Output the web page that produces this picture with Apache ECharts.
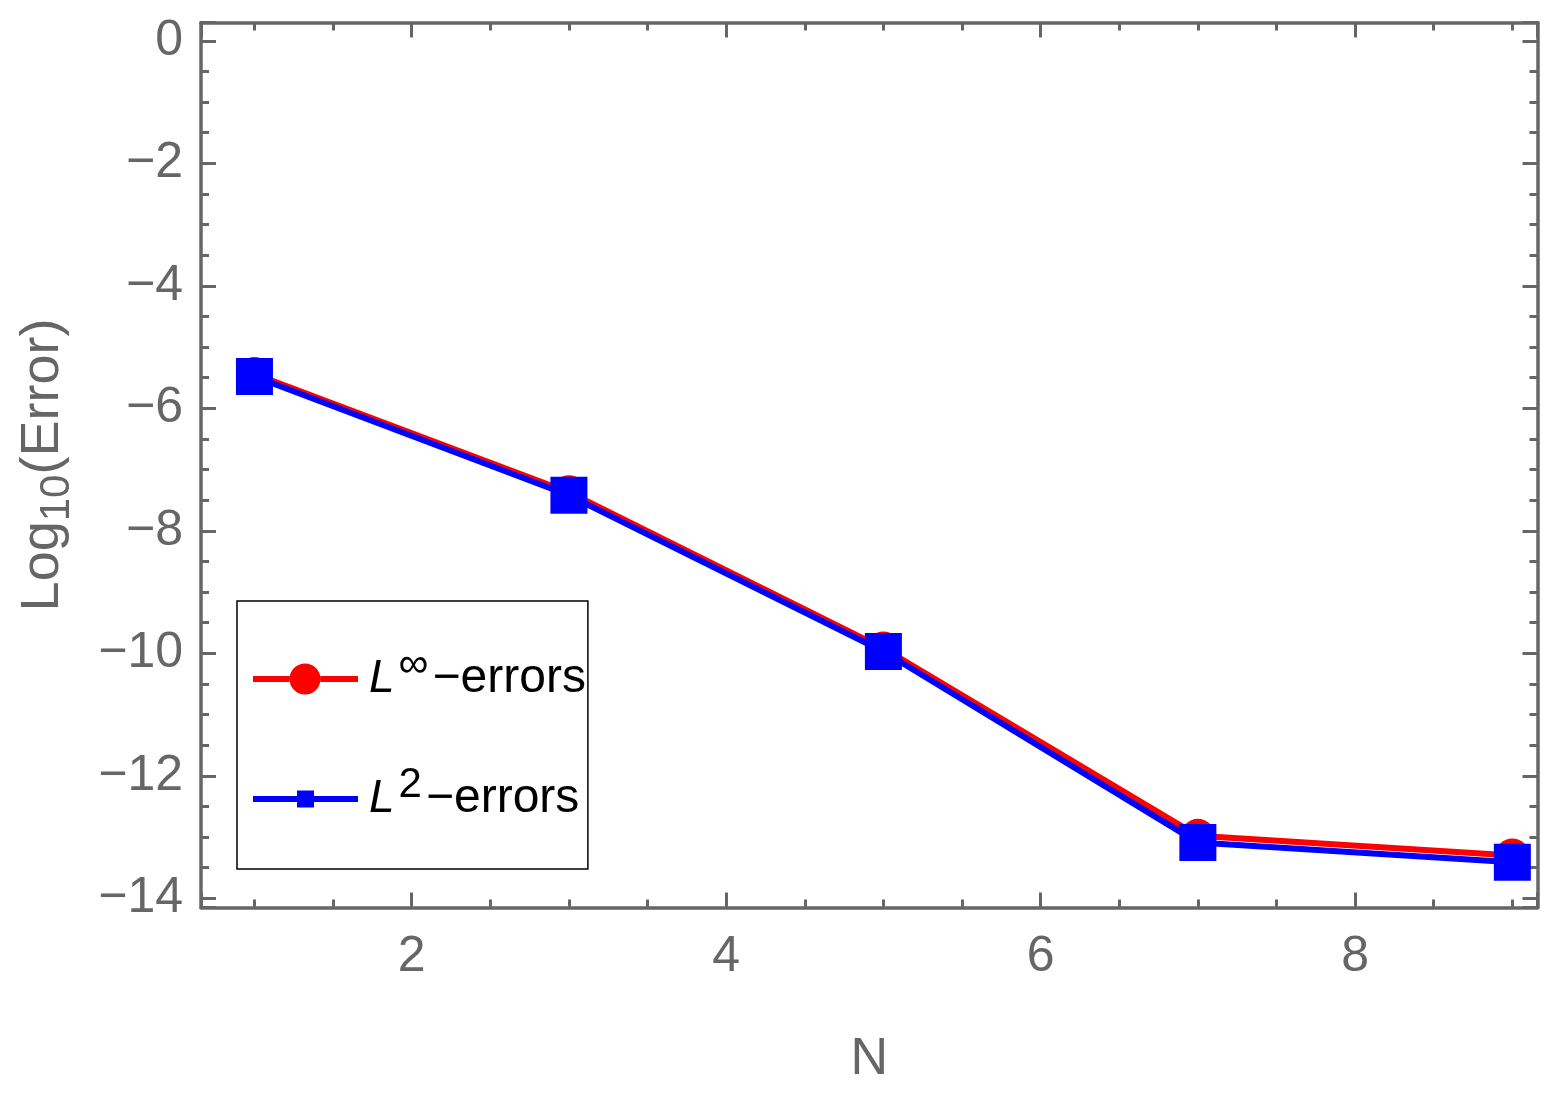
<!DOCTYPE html>
<html>
<head>
<meta charset="utf-8">
<title>Log10(Error) vs N</title>
<script src="https://cdn.jsdelivr.net/npm/echarts@6/dist/echarts.min.js"></script>
<style>
  html, body { margin: 0; padding: 0; background: #fff; }
  #chart { width: 1562px; height: 1100px; }
</style>
</head>
<body>
<div id="chart"></div>
<script>
// data
var nValues = [1, 3, 5, 7, 9];
var linfErrors = [-5.44, -7.37, -9.92, -12.98, -13.30];
var l2Errors = [-5.48, -7.42, -9.97, -13.09, -13.41];

var gray = '#666666';
var fontName = 'Liberation Sans';

function pairs(xs, ys) {
  return xs.map(function (x, i) { return [x, ys[i]]; });
}

function tickLabel(v) {
  return v < 0 ? '\u2212' + (-v) : String(v);
}

// frame axis (mathematica style: ticks on all 4 sides, inside)
function frameAxis(pos, min, max, splitNumber, showLabel, margin) {
  return {
    type: 'value',
    position: pos,
    min: min,
    max: max,
    splitNumber: splitNumber,
    axisLine: { show: true, onZero: false, lineStyle: { color: gray, width: 3.5 } },
    axisTick: { show: true, inside: true, length: 15, lineStyle: { color: gray, width: 3 } },
    minorTick: { show: true, splitNumber: 4, length: 8, lineStyle: { color: gray, width: 3 } },
    splitLine: { show: false },
    axisLabel: {
      show: showLabel,
      showMinLabel: false,
      showMaxLabel: false,
      margin: margin,
      color: gray,
      fontSize: 50,
      fontFamily: fontName,
      formatter: tickLabel
    }
  };
}

var xBottom = frameAxis('bottom', 0.66, 9.16, 4, true, 25);
xBottom.name = 'N';
xBottom.nameLocation = 'middle';
xBottom.nameGap = 126;
xBottom.nameTextStyle = { color: gray, fontSize: 52, fontFamily: fontName };

var yLeft = frameAxis('left', -14.15, 0.3, 7, true, 18);
yLeft.name = '{a|Log}{b|10}{a|(Error)}';
yLeft.nameLocation = 'middle';
yLeft.nameGap = 123;
yLeft.nameRotate = 90;
yLeft.nameTextStyle = {
  color: gray,
  fontFamily: fontName,
  rich: {
    a: { color: gray, fontSize: 54, fontFamily: fontName, lineHeight: 70 },
    b: { color: gray, fontSize: 42, fontFamily: fontName, lineHeight: 40, verticalAlign: 'bottom' }
  }
};

// legend icons: line with marker in the middle
var circleIcon = 'path://M0,14L36.5,14L36.5,20L0,20Z M67.5,14L105,14L105,20L67.5,20Z ' +
  'M36.5,17A15.5,15.5,0,1,1,67.5,17A15.5,15.5,0,1,1,36.5,17Z';
var squareIcon = 'path://M0,14L44,14L44,20L0,20Z M61,14L105,14L105,20L61,20Z M44,8.5L61,8.5L61,25.5L44,25.5Z';

var legendRich = {
  i: { fontStyle: 'italic', fontSize: 46, color: '#000', fontFamily: fontName, lineHeight: 70, padding: [0, 0, 0, 6] },
  s: { fontSize: 42, color: '#000', fontFamily: fontName, lineHeight: 18, verticalAlign: 'top', padding: [0, 4, 0, 4] },
  t: { fontSize: 48, color: '#000', fontFamily: fontName, lineHeight: 70 }
};

var chart = echarts.init(document.getElementById('chart'));
chart.setOption({
  animation: false,
  backgroundColor: '#fff',
  grid: { left: 201, right: 24.5, top: 22.5, bottom: 192.5, containLabel: false },
  xAxis: [xBottom, frameAxis('top', 0.66, 9.16, 4, false, 8)],
  yAxis: [yLeft, frameAxis('right', -14.15, 0.3, 7, false, 8)],
  legend: {
    orient: 'vertical',
    left: 237,
    top: 601,
    padding: [43, 2, 46, 16],
    itemGap: 61,
    itemWidth: 105,
    itemHeight: 34,
    borderColor: '#000',
    borderWidth: 1.5,
    textStyle: { rich: legendRich },
    data: [
      { name: 'linf', icon: circleIcon },
      { name: 'l2', icon: squareIcon }
    ],
    formatter: function (name) {
      return name === 'linf'
        ? '{i|L}{s|\u221e}{t|\u2212errors}'
        : '{i|L}{s|2}{t|\u2212errors}';
    }
  },
  series: [
    {
      name: 'linf',
      type: 'line',
      xAxisIndex: 0,
      yAxisIndex: 0,
      data: pairs(nValues, linfErrors),
      symbol: 'circle',
      symbolSize: 34,
      color: '#ff0000',
      lineStyle: { color: '#ff0000', width: 6 },
      itemStyle: { color: '#ff0000' }
    },
    {
      name: 'l2',
      type: 'line',
      xAxisIndex: 0,
      yAxisIndex: 0,
      data: pairs(nValues, l2Errors),
      symbol: 'rect',
      symbolSize: 37,
      color: '#0000ff',
      lineStyle: { color: '#0000ff', width: 6 },
      itemStyle: { color: '#0000ff' }
    }
  ]
});
</script>
</body>
</html>
